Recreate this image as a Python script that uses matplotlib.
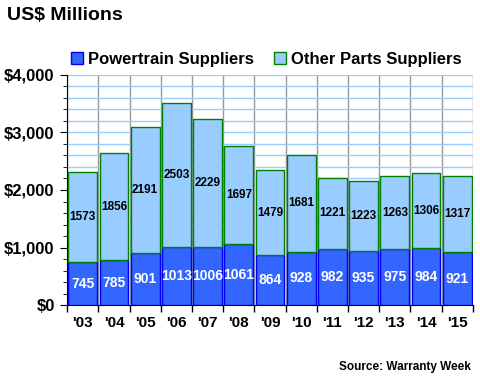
from matplotlib import pyplot as plt
from matplotlib.ticker import MultipleLocator, FixedLocator
import numpy as np

plt.rcParams['font.family'] = ['Liberation Sans', 'DejaVu Sans']
plt.rcParams['font.weight'] = 'bold'

years = ["'03", "'04", "'05", "'06", "'07", "'08", "'09", "'10", "'11", "'12", "'13", "'14", "'15"]
powertrain = [745, 785, 901, 1013, 1006, 1061, 864, 928, 982, 935, 975, 984, 921]
other = [1573, 1856, 2191, 2503, 2229, 1697, 1479, 1681, 1221, 1223, 1263, 1306, 1317]

fig = plt.figure(figsize=(4.8, 3.8), dpi=100)
ax = fig.add_axes([0.14, 0.197, 0.845, 0.606])

x = np.arange(len(years))
b1 = ax.bar(x, powertrain, width=0.92, color='#3366ff', edgecolor='#0000ee', linewidth=1,
            label='Powertrain Suppliers', zorder=3)
b2 = ax.bar(x, other, width=0.92, bottom=powertrain, color='#99ccff', edgecolor='#008000',
            linewidth=1, label='Other Parts Suppliers', zorder=3)

for i in range(len(years)):
    ax.text(x[i], powertrain[i] / 2, str(powertrain[i]), ha='center', va='center',
            color='white', fontsize=10, fontweight='bold', zorder=4)
    ax.text(x[i], powertrain[i] + other[i] / 2, str(other[i]), ha='center', va='center',
            color='black', fontsize=8.5, fontweight='bold', zorder=4)

ax.set_xlim(-0.5, len(years) - 0.5)
ax.set_ylim(0, 4000)
ax.yaxis.set_major_locator(MultipleLocator(1000))
ax.yaxis.set_minor_locator(MultipleLocator(200))
ax.yaxis.set_major_formatter(plt.FuncFormatter(lambda v, p: '${:,.0f}'.format(v)))
ax.grid(axis='y', which='both', color='#99ccff', linewidth=1, zorder=0)

ax.set_xticks(x)
ax.set_xticklabels(years)
ax.xaxis.set_minor_locator(FixedLocator(np.arange(-0.5, len(years), 1.0)))
ax.grid(axis='x', which='minor', color='#999999', linewidth=1, zorder=1)
ax.tick_params(axis='x', which='major', length=0, labelsize=11, pad=8)
ax.tick_params(axis='x', which='minor', length=5, width=1, direction='out')
ax.tick_params(axis='y', which='major', length=5, labelsize=12, pad=4)
ax.tick_params(axis='y', which='minor', length=3)
for lab in ax.get_xticklabels() + ax.get_yticklabels():
    lab.set_fontweight('bold')

ax.spines['top'].set_visible(False)
ax.spines['right'].set_visible(False)

fig.text(0.015, 0.958, 'US$ Millions', fontsize=14, fontweight='bold', ha='left', va='center')
fig.text(0.98, 0.034, 'Source: Warranty Week', fontsize=8.5, fontweight='bold', ha='right', va='center')

fig.legend(handles=[b1, b2], loc='center', bbox_to_anchor=(0.555, 0.843), ncol=2, frameon=False,
           handlelength=0.7, handleheight=0.7, handletextpad=0.3, columnspacing=1.2,
           prop={'weight': 'bold', 'size': 12})

fig.savefig('out.png', dpi=100)
